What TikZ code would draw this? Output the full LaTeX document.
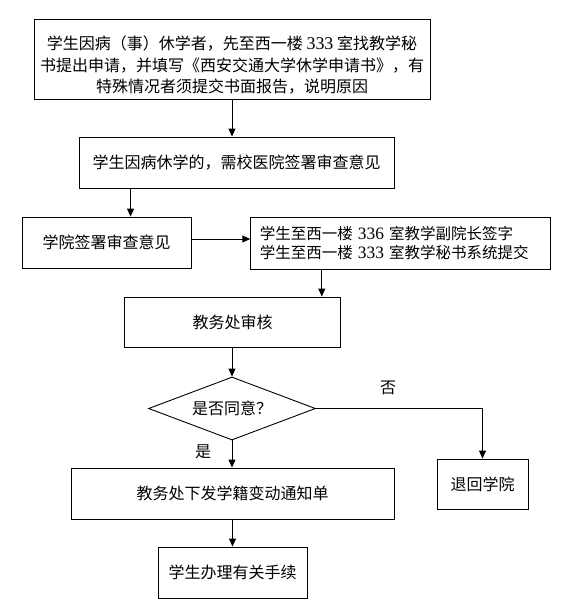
\documentclass[tikz,border=0pt]{standalone}
\usepackage{fontspec}
\setmainfont{Noto Sans CJK SC}
\newfontfamily\numfont[Scale=1.12]{Liberation Serif}
\usetikzlibrary{arrows.meta,shapes.geometric}

\begin{document}
\begin{tikzpicture}[x=1pt,y=-1pt,>={Triangle[length=8pt,width=7pt]},line width=0.9pt,
box/.style={draw,rectangle,inner sep=2pt,align=center,font=\fontsize{16}{21.7}\selectfont},
choice/.style={draw,diamond,inner sep=0pt,aspect=2.65,minimum width=167pt,minimum height=63pt,font=\fontsize{16}{20}\selectfont},
word/.style={inner sep=0pt,font=\fontsize{16}{20}\selectfont}]
\useasboundingbox (0,0) rectangle (566,610);
\node[box,minimum width=396pt,minimum height=80pt] (apply) at (232,59)
{\rule{0pt}{26pt}学生因病（事）休学者，先至西一楼 {\numfont 333} 室找教学秘\\书提出申请，并填写《西安交通大学休学申请书》，有\\特殊情况者须提交书面报告，说明原因};
\node[box,minimum width=315pt,minimum height=51pt] (clinic) at (236.5,162.5) {学生因病休学的，需校医院签署审查意见};
\node[box,minimum width=169pt,minimum height=51pt] (college) at (106.5,242.5) {学院签署审查意见};
\node[box,align=left,inner xsep=9pt,text width=282pt,minimum height=52pt,font=\fontsize{15.5}{19}\selectfont] (sign) at (400.75,243)
{学生至西一楼 {\numfont 336} 室教学副院长签字\\学生至西一楼 {\numfont 333} 室教学秘书系统提交};
\node[box,minimum width=216pt,minimum height=50pt] (review) at (232.5,322) {教务处审核};
\node[choice] (agree) at (232,408.5) {是否同意？};
\node[box,minimum width=323pt,minimum height=51pt] (notice) at (232.5,493.5) {教务处下发学籍变动通知单};
\node[box,minimum width=91pt,minimum height=50pt] (back) at (482.5,484) {退回学院};
\node[box,minimum width=149pt,minimum height=51pt] (handle) at (232.5,572.5) {学生办理有关手续};
\node[word] (nolab) at (388,388) {否};
\node[word] (yeslab) at (203,452) {是};
\draw[->] (apply.south) -- (apply.south |- clinic.north);
\draw[->] ([xshift=52pt]clinic.south west) -- ([xshift=52pt]clinic.south west |- college.north);
\draw[->] ([yshift=3.5pt]college.east) -- ([yshift=3.5pt]college.east -| sign.west);
\draw[->] ([xshift=71.5pt]sign.south west) -- ([xshift=71.5pt]sign.south west |- review.north);
\draw[->] (agree.north |- review.south) -- (agree.north);
\draw[->] (agree.south) -- (agree.south |- notice.north);
\draw[->] (agree.east) -| (back.north);
\draw[->] (notice.south) -- (handle.north);
\end{tikzpicture}
\end{document}
